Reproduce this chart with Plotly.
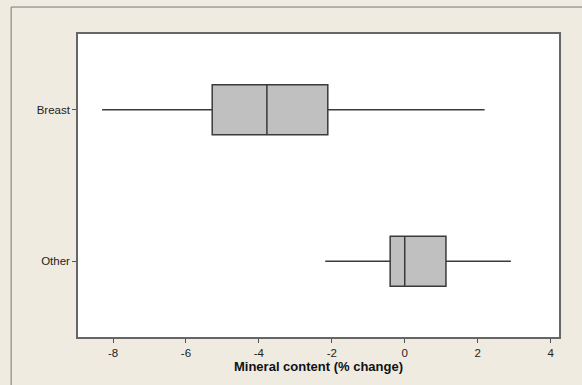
import plotly.graph_objects as go

categories = ["Breast", "Other"]
lower_whisker = [-8.30, -2.18]
q1_vals = [-5.28, -0.40]
medians = [-3.78, 0.0]
q3_vals = [-2.11, 1.13]
upper_whisker = [2.19, 2.91]
x_ticks = [-8, -6, -4, -2, 0, 2, 4]
x_tick_labels = ["-8", "-6", "-4", "-2", "0", "2", "4"]

fig = go.Figure()
fig.add_trace(go.Box(
    y=categories,
    q1=q1_vals, median=medians, q3=q3_vals,
    lowerfence=lower_whisker, upperfence=upper_whisker,
    orientation="h",
    fillcolor="#C0C0C0",
    line=dict(color="#3a3a3a", width=1.5),
    whiskerwidth=0,
    width=0.33,
    boxpoints=False,
    showlegend=False,
    hoverinfo="skip",
))

fig.update_layout(
    width=582, height=385,
    margin=dict(l=78, r=23, t=34, b=48),
    paper_bgcolor="#EFEBE1",
    plot_bgcolor="#FFFFFF",
    font=dict(family="Liberation Sans, Arial, sans-serif", size=11, color="#222222"),
    xaxis=dict(
        range=[-8.96, 4.23],
        tickvals=x_ticks, ticktext=x_tick_labels,
        ticks="outside", ticklen=4, tickcolor="#555555",
        showgrid=False, zeroline=False,
        showline=True, linecolor="#666666", linewidth=1.5, mirror=True,
        title=dict(text="<b>Mineral content (% change)</b>", font=dict(size=13, color="#111111"), standoff=4),
        tickfont=dict(size=11.5),
    ),
    yaxis=dict(
        categoryorder="array", categoryarray=["Other", "Breast"],
        range=[-0.5, 1.5],
        ticks="outside", ticklen=4, tickcolor="#555555",
        showgrid=False, zeroline=False,
        showline=True, linecolor="#666666", linewidth=1.5, mirror=True,
        tickfont=dict(size=11.5),
    ),
    shapes=[dict(
        type="rect", xref="paper", yref="paper",
        x0=-0.139, x1=1.07, y0=-0.2, y1=1.089,
        line=dict(color="#777777", width=1), fillcolor="rgba(0,0,0,0)", layer="below",
    )],
)

fig.write_html(
    "out.html",
    config={"displayModeBar": False},
    post_script="document.body.style.margin='0';document.body.style.overflow='hidden';",
)
